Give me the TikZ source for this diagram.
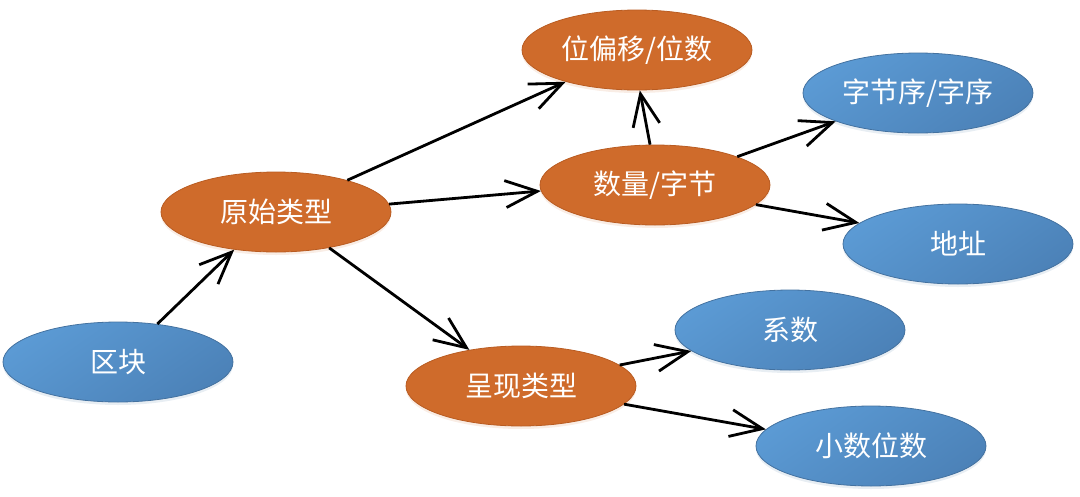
\documentclass[tikz,border=0pt]{standalone}
\usepackage{fontspec}
\newfontfamily\cjk{Noto Sans CJK SC}
\usetikzlibrary{shapes.geometric,arrows.meta,shadows}
\definecolor{bluelight}{HTML}{5B9AD4}
\definecolor{bluedark}{HTML}{4C82B8}
\definecolor{blueline}{HTML}{4472A0}
\definecolor{orangefill}{HTML}{CF6B2B}
\definecolor{orangeline}{HTML}{B95C22}
\begin{document}
\begin{tikzpicture}[x=1pt,y=-1pt,
  blob/.style={ellipse, minimum width=230pt, minimum height=80pt, inner sep=0pt,
    text=white, font=\cjk\fontsize{28}{32}\selectfont, line width=0.8pt},
  bluenode/.style={blob, draw=blueline, top color=bluelight, bottom color=bluedark, shading angle=35,
    drop shadow={opacity=0.12, shadow xshift=0pt, shadow yshift=-3pt, fill=blueline}},
  orangenode/.style={blob, draw=orangeline, fill=orangefill,
    drop shadow={opacity=0.12, shadow xshift=0pt, shadow yshift=-3pt, fill=orangefill}},
  conn/.style={-{Straight Barb[length=32pt,width=27pt,line width=2.8pt]}, line width=2.8pt, black}
]
\useasboundingbox (0,0) rectangle (1080,496);

\node[bluenode]   (qk)  at (118,362) {区块};
\node[orangenode] (ys)  at (276,212) {原始类型};
\node[orangenode] (wpy) at (637,50)  {位偏移/位数};
\node[orangenode] (sl)  at (655,185) {数量/字节};
\node[bluenode]   (zjx) at (918,93)  {字节序/字序};
\node[bluenode]   (dz)  at (958,244) {地址};
\node[bluenode]   (xs)  at (790,330) {系数};
\node[orangenode] (cx)  at (521,386) {呈现类型};
\node[bluenode]   (xsw) at (871,446) {小数位数};

\draw[conn] (qk.44)   -- (ys.222);
\draw[conn] (ys.24)   -- (wpy.204);
\draw[conn] (ys.4)    -- (sl.183);
\draw[conn] (ys.-34)  -- (cx.145);
\draw[conn] (sl.97)   -- (wpy.-86);
\draw[conn] (sl.19)   -- (zjx.199);
\draw[conn] (sl.-11)  -- (dz.168);
\draw[conn] (cx.12)   -- (xs.192);
\draw[conn] (cx.-10)  -- (xsw.171);
\end{tikzpicture}
\end{document}
